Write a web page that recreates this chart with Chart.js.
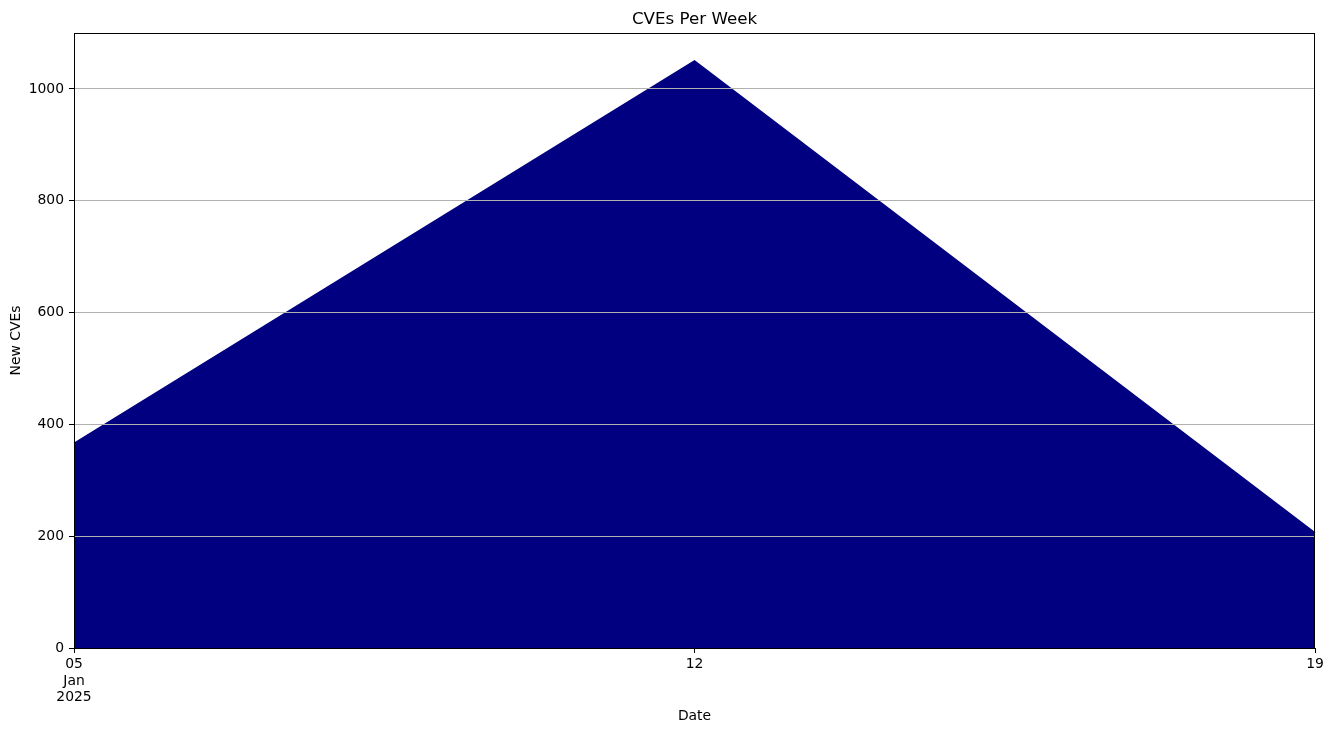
<!DOCTYPE html>
<html><head><meta charset="utf-8">
<script src="https://cdn.jsdelivr.net/npm/chart.js@4"></script>
<style>html,body{margin:0;padding:0;background:#fff}#w{width:1333px;height:734px}</style>
</head><body><div id="w"><canvas id="c"></canvas></div>
<script>
const categories = [['05','Jan','2025'], '12', '19'];
const newCves = [366, 1050, 206];
const yTicks = [0, 200, 400, 600, 800, 1000];
const chartTitle = 'CVEs Per Week';

const frame = {
  id: 'frame',
  afterDraw(chart) {
    const a = chart.chartArea, ctx = chart.ctx;
    ctx.save();
    ctx.strokeStyle = '#000'; ctx.lineWidth = 1;
    ctx.strokeRect(Math.round(a.left) + 0.5, Math.round(a.top) + 0.5, Math.round(a.right - a.left) - 1, Math.round(a.bottom - a.top));
    ctx.fillStyle = '#000';
    ctx.font = '16.7px "DejaVu Sans"';
    ctx.textAlign = 'center';
    ctx.textBaseline = 'alphabetic';
    ctx.fillText(chartTitle, (a.left + a.right) / 2, a.top - 9);
    ctx.restore();
  }
};

Chart.defaults.font.family = 'DejaVu Sans';
Chart.defaults.color = '#000';
new Chart(document.getElementById('c'), {
  type: 'line',
  data: {
    labels: categories,
    datasets: [{
      data: newCves,
      borderColor: '#000080',
      backgroundColor: '#000080',
      fill: 'origin',
      pointRadius: 0,
      borderWidth: 1.5,
      tension: 0
    }]
  },
  options: {
    responsive: true,
    maintainAspectRatio: false,
    animation: false,
    layout: { padding: { left: 0, right: 18, top: 33, bottom: 0 } },
    plugins: {
      legend: { display: false },
      tooltip: { enabled: false },
      title: { display: false }
    },
    scales: {
      x: {
        offset: false,
        grid: { display: true, drawOnChartArea: false, drawTicks: true, tickLength: 5, tickColor: '#000' },
        border: { display: true, color: '#000' },
        ticks: { font: { size: 13.9 }, maxRotation: 0, autoSkip: false, padding: 3 },
        title: { display: true, text: 'Date', font: { size: 13.9 }, padding: { top: 4, bottom: 9.7 } },
        afterFit(s) { s.height = 86; }
      },
      y: {
        min: 0, max: 1100,
        afterBuildTicks(s) { s.ticks = yTicks.map(v => ({ value: v })); },
        grid: { z: 1, color: '#b0b0b0', lineWidth: 1, tickColor: '#000', tickLength: 5 },
        border: { display: true, color: '#000', z: 2 },
        ticks: { font: { size: 13.9 }, padding: 5, callback: v => String(v) },
        title: { display: true, text: 'New CVEs', font: { size: 13.9 }, padding: { top: 7.7, bottom: 4 } },
        afterFit(s) { s.width = 74; }
      }
    }
  },
  plugins: [frame]
});
</script></body></html>
